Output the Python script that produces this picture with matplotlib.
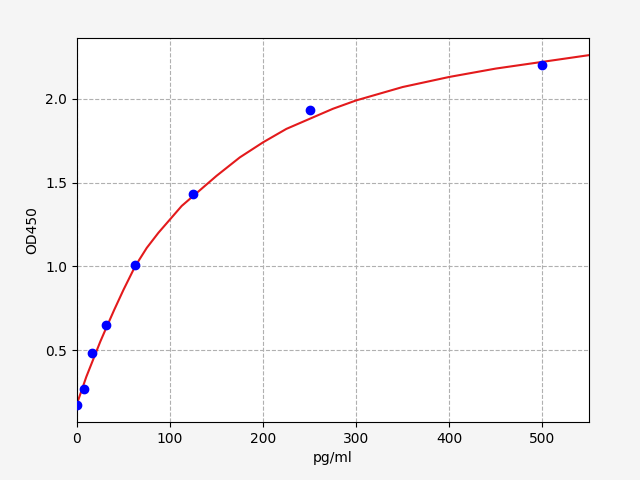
import matplotlib
matplotlib.use("Agg")
import matplotlib.pyplot as plt

conc = [0, 7.8, 15.6, 31.25, 62.5, 125, 250, 500]
od = [0.17, 0.27, 0.48, 0.65, 1.01, 1.43, 1.93, 2.20]
curve_x = [0, 5, 10, 15, 20, 25, 31.25, 40, 50, 62.5, 75, 87.5, 100, 112.5, 125, 150, 175, 200, 225, 250, 275, 300, 350, 400, 450, 500, 550]
curve_y = [0.18, 0.26, 0.34, 0.41, 0.48, 0.55, 0.63, 0.74, 0.86, 1.00, 1.11, 1.20, 1.28, 1.36, 1.42, 1.54, 1.65, 1.74, 1.82, 1.88, 1.94, 1.99, 2.07, 2.13, 2.18, 2.22, 2.26]

fig, ax = plt.subplots(figsize=(6.4, 4.8), dpi=100)
fig.subplots_adjust(left=0.1203, right=0.920, bottom=0.121, top=0.921)
fig.patch.set_facecolor("#f5f5f5")
ax.plot(curve_x, curve_y, color="#e31a1c", lw=1.5, zorder=2)
ax.scatter(conc, od, color="#0000ff", s=36, zorder=3)
ax.set_xlim(0, 550)
ax.set_ylim(0.071, 2.363)
ax.set_xticks([0, 100, 200, 300, 400, 500])
ax.set_yticks([0.5, 1.0, 1.5, 2.0])
ax.grid(True, linestyle="--", color="#b0b0b0")
ax.set_xlabel("pg/ml")
ax.set_ylabel("OD450")
fig.savefig("out.png")
